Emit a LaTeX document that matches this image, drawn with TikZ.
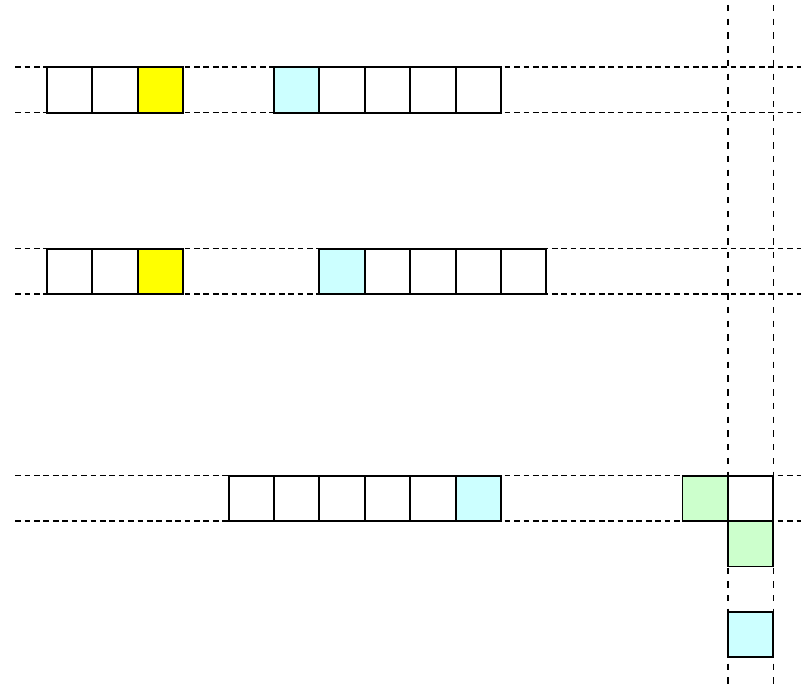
\documentclass[tikz,border=0pt]{standalone}
\definecolor{cellyellow}{RGB}{255,255,0}
\definecolor{cellcyan}{RGB}{204,255,255}
\definecolor{cellgreen}{RGB}{204,255,204}
\tikzset{
  hline/.style={line width=0.9pt,dash pattern=on 3.6pt off 2.3pt},
  vline/.style={line width=1pt,dash pattern=on 4pt off 4.6pt},
  cell/.style={draw,line width=1.2pt,fill=white}
}
\begin{document}
\begin{tikzpicture}
\useasboundingbox (-1.035,-3.70) rectangle (16.61,11.48);
\foreach \y in {0,1,5,6,9,10}
  \draw[hline] (-0.7,\y) -- (16.61,\y);
\foreach \x in {15,16}
  \draw[vline] (\x,11.37) -- (\x,-3.70);
\foreach \x in {0,1}
  \draw[cell] (\x,9) rectangle ++(1,1);
\draw[cell,fill=cellyellow] (2,9) rectangle ++(1,1);
\draw[cell,fill=cellcyan] (5,9) rectangle ++(1,1);
\foreach \x in {6,...,9}
  \draw[cell] (\x,9) rectangle ++(1,1);
\foreach \x in {0,1}
  \draw[cell] (\x,5) rectangle ++(1,1);
\draw[cell,fill=cellyellow] (2,5) rectangle ++(1,1);
\draw[cell,fill=cellcyan] (6,5) rectangle ++(1,1);
\foreach \x in {7,...,10}
  \draw[cell] (\x,5) rectangle ++(1,1);
\foreach \x in {4,...,8}
  \draw[cell] (\x,0) rectangle ++(1,1);
\draw[cell,fill=cellcyan] (9,0) rectangle ++(1,1);
\draw[cell,fill=cellgreen] (14,0) rectangle ++(1,1);
\draw[cell] (15,0) rectangle ++(1,1);
\draw[cell,fill=cellgreen] (15,-1) rectangle ++(1,1);
\draw[cell,fill=cellcyan] (15,-3) rectangle ++(1,1);
\end{tikzpicture}
\end{document}
